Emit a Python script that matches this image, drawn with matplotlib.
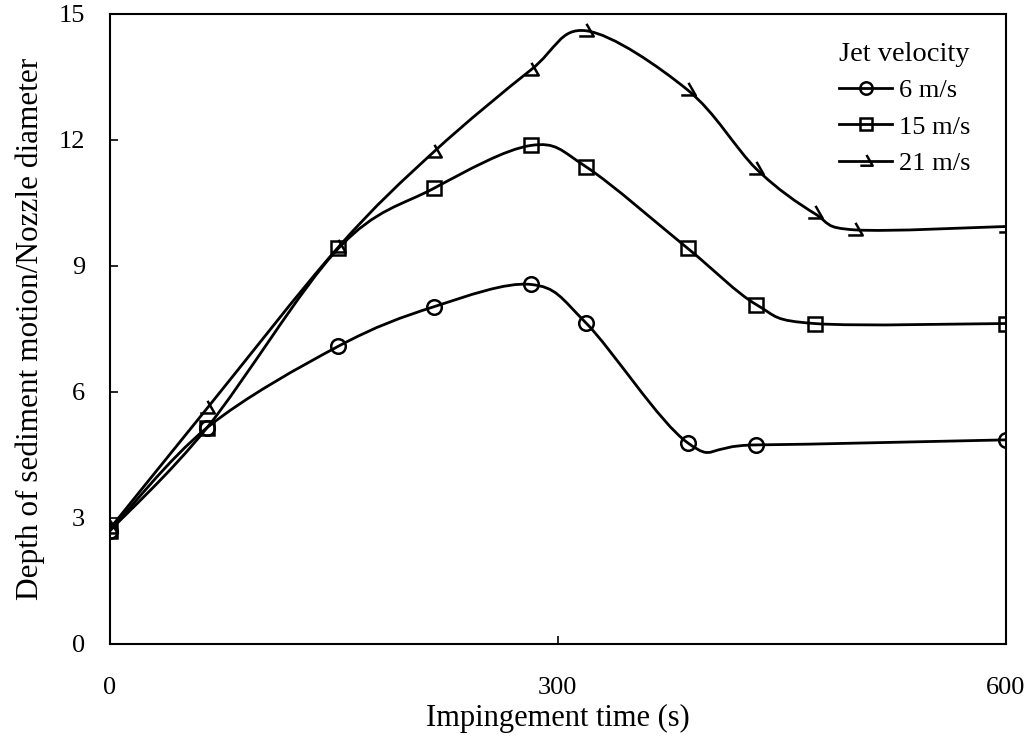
import numpy as np
import matplotlib
matplotlib.use("Agg")
import matplotlib.pyplot as plt
from matplotlib.path import Path
from matplotlib.patches import PathPatch
from matplotlib.lines import Line2D

plt.rcParams['font.family'] = ['Liberation Serif', 'DejaVu Serif']

# ---- data ----
t_6 = [0, 65, 153, 217, 282, 319, 387, 433, 600]
v_6 = [2.70, 5.15, 7.09, 8.03, 8.56, 7.64, 4.79, 4.74, 4.86]

t_15 = [0, 65, 153, 217, 282, 319, 387, 433, 472, 600]
v_15 = [2.70, 5.15, 9.42, 10.85, 11.87, 11.36, 9.42, 8.08, 7.63, 7.63]

t_21 = [0, 65, 153, 217, 282, 319, 387, 433, 472, 499, 600]
v_21 = [2.75, 5.61, 9.45, 11.72, 13.67, 14.60, 13.19, 11.31, 10.25, 9.86, 9.94]

labels = ['6 m/s', '15 m/s', '21 m/s']
x_ticks = [0, 300, 600]
y_ticks = [0, 3, 6, 9, 12, 15]

# ---- helpers ----
def smooth_path(x, y):
    P = np.column_stack([x, y]).astype(float)
    n = len(P)
    verts = [P[0]]
    codes = [Path.MOVETO]
    for i in range(n - 1):
        p0 = P[i - 1] if i > 0 else P[i]
        p1 = P[i]
        p2 = P[i + 1]
        p3 = P[i + 2] if i + 2 < n else P[i + 1]
        c1 = p1 + (p2 - p0) / 6.0
        c2 = p2 - (p3 - p1) / 6.0
        verts += [c1, c2, p2]
        codes += [Path.CURVE4] * 3
    return Path(verts, codes)

tri = Path([(0, 1.0), (0.95, -0.65), (-0.95, -0.65)],
           [Path.MOVETO, Path.LINETO, Path.LINETO])

fig = plt.figure(figsize=(10.33, 7.36), dpi=100)
ax = fig.add_axes([0.1065, 0.125, 0.867, 0.856])

lw = 2.0
series = [(t_6, v_6, 'o', 10.5), (t_15, v_15, 's', 10.5), (t_21, v_21, tri, 11)]
handles = []
for (xs, ys, mk, ms), lab in zip(series, labels):
    ax.add_patch(PathPatch(smooth_path(xs, ys), facecolor='none',
                           edgecolor='black', lw=lw, zorder=2))
    ax.plot(xs, ys, linestyle='none', marker=mk, markersize=ms,
            markerfacecolor='none', markeredgecolor='black',
            markeredgewidth=1.8, zorder=3)
    handles.append(Line2D([], [], color='black', lw=lw, marker=mk,
                          markersize=ms * 0.85, markerfacecolor='none',
                          markeredgecolor='black', markeredgewidth=1.8))

ax.set_xlim(0, 600)
ax.set_ylim(0, 15)
ax.set_xticks(x_ticks)
ax.set_yticks(y_ticks)
ax.tick_params(axis='both', direction='in', length=6, width=1.2,
               labelsize=19)
ax.tick_params(axis='x', pad=24)
ax.tick_params(axis='y', pad=18)
for s in ax.spines.values():
    s.set_linewidth(1.5)

ax.set_xlabel('Impingement time (s)', fontsize=22, labelpad=3)
ax.set_ylabel('Depth of sediment motion/Nozzle diameter', fontsize=22.5,
              labelpad=10)

leg = ax.legend(handles, labels, title='Jet velocity', loc='upper right',
                bbox_to_anchor=(0.978, 0.98), frameon=False, fontsize=19,
                title_fontsize=20.5, handlelength=2.0, handletextpad=0.25,
                labelspacing=0.5, borderaxespad=0.2)
leg._legend_box.sep = 8

fig.savefig('out.png', dpi=100)
